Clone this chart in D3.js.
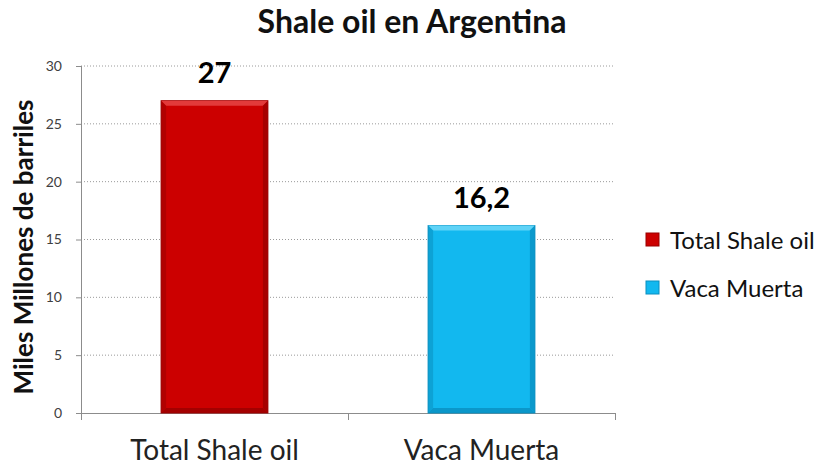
<!DOCTYPE html>
<html>
<head>
<meta charset="utf-8">
<script src="https://cdn.jsdelivr.net/npm/d3@7"></script>
<style>
  body { margin: 0; background: #fff; }
  text { font-family: Lato, "Open Sans", sans-serif; }
</style>
</head>
<body>
<svg id="chart" width="829" height="468"></svg>
<script>
const categories = ["Total Shale oil", "Vaca Muerta"];
const values = [27, 16.2];
const valueLabels = ["27", "16,2"];
const colors = ["#cc0000", "#12b8ef"];
const edgeColors = ["#9a0000", "#0a8fc0"];
const lightColors = ["#e23a3a", "#5fd3f7"];
const yTicks = [0, 5, 10, 15, 20, 25, 30];

let svg = d3.select("#chart");

let margin = { top: 66, left: 81, right: 214, bottom: 55 };
let width = 829 - margin.left - margin.right,
height = 468 - margin.top - margin.bottom;

let g = svg.append("g").
attr("transform", "translate(" + margin.left + "," + margin.top + ")");

let x = d3.scaleBand().
domain(categories).
range([0, width]).
paddingInner(0.6).
paddingOuter(0.3);

let y = d3.scaleLinear().
domain([0, 30]).
range([height, 0]);

// grid lines
g.append("g").
selectAll("line").
data(yTicks.filter(d => d > 0)).
enter().append("line").
attr("x1", 0).
attr("x2", width).
attr("y1", d => y(d)).
attr("y2", d => y(d)).
attr("stroke", "#9a9a9a").
attr("stroke-width", 1).
attr("stroke-dasharray", "1,2");

// y axis
let yAxis = g.append("g").
call(d3.axisLeft(y).tickValues(yTicks).tickSize(5).tickPadding(14));
yAxis.select(".domain").attr("stroke", "#8c8c8c").attr("d", "M0.5," + height + "V0");
yAxis.selectAll(".tick line").attr("stroke", "#8c8c8c");
yAxis.selectAll(".tick text").
attr("fill", "#404040").
style("font-size", "14px");

// x axis
let xAxis = g.append("g").
attr("transform", "translate(0," + height + ")").
call(d3.axisBottom(x).tickSize(0).tickPadding(27));
xAxis.select(".domain").attr("stroke", "#8c8c8c");
xAxis.selectAll(".tick text").
attr("fill", "#222").
style("font-size", "28px");
xAxis.append("g").
selectAll("line").
data([0, 1, 2]).
enter().append("line").
attr("x1", d => Math.round(d * x.step()) + 0.5).
attr("x2", d => Math.round(d * x.step()) + 0.5).
attr("y1", 0).
attr("y2", 7).
attr("stroke", "#8c8c8c");

// bars with a small bevel
const bevel = 5;
let bar = g.selectAll(".bar").
data(categories).
enter().append("g").
attr("class", "bar");

bar.append("rect").
attr("x", d => x(d)).
attr("y", (d, i) => y(values[i])).
attr("width", x.bandwidth()).
attr("height", (d, i) => height - y(values[i])).
attr("fill", (d, i) => colors[i]).
attr("stroke", (d, i) => edgeColors[i]).
attr("stroke-width", 1);

bar.append("path").
attr("d", (d, i) => {
  let x0 = x(d), x1 = x(d) + x.bandwidth(), t = y(values[i]);
  return "M" + x0 + "," + t + "H" + x1 + "L" + (x1 - bevel) + "," + (t + bevel) +
  "H" + (x0 + bevel) + "Z";
}).
attr("fill", (d, i) => lightColors[i]);

bar.append("path").
attr("d", (d, i) => {
  let x0 = x(d), t = y(values[i]);
  return "M" + x0 + "," + t + "L" + (x0 + bevel) + "," + (t + bevel) +
  "V" + (height - bevel) + "L" + x0 + "," + height + "Z";
}).
attr("fill", (d, i) => edgeColors[i]).
attr("opacity", 0.55);

bar.append("path").
attr("d", (d, i) => {
  let x1 = x(d) + x.bandwidth(), t = y(values[i]);
  return "M" + x1 + "," + t + "L" + (x1 - bevel) + "," + (t + bevel) +
  "V" + (height - bevel) + "L" + x1 + "," + height + "Z";
}).
attr("fill", (d, i) => edgeColors[i]).
attr("opacity", 0.75);

bar.append("path").
attr("d", (d, i) => {
  let x0 = x(d), x1 = x(d) + x.bandwidth();
  return "M" + x0 + "," + height + "L" + (x0 + bevel) + "," + (height - bevel) +
  "H" + (x1 - bevel) + "L" + x1 + "," + height + "Z";
}).
attr("fill", (d, i) => edgeColors[i]).
attr("opacity", 0.8);

// value labels
bar.append("text").
attr("x", d => x(d) + x.bandwidth() / 2).
attr("y", (d, i) => y(values[i]) - 18).
attr("text-anchor", "middle").
style("font-size", "29px").
style("font-weight", "bold").
attr("fill", "#000").
text((d, i) => valueLabels[i]);

// title
svg.append("text").
attr("x", 412).
attr("y", 33).
attr("text-anchor", "middle").
style("font-size", "32px").
style("font-weight", "bold").
attr("fill", "#111").
text("Shale oil en Argentina");

// y axis title
svg.append("text").
attr("transform", "translate(33,247) rotate(-90)").
attr("text-anchor", "middle").
style("font-size", "26px").
style("font-weight", "bold").
attr("fill", "#111").
text("Miles Millones de barriles");

// legend
let legend = svg.append("g").
attr("transform", "translate(646,233)").
selectAll("g").
data(categories).
enter().append("g").
attr("transform", (d, i) => "translate(0," + i * 48 + ")");

legend.append("rect").
attr("width", 13).
attr("height", 13).
attr("fill", (d, i) => colors[i]).
attr("stroke", (d, i) => edgeColors[i]);

legend.append("text").
attr("x", 24).
attr("y", 16).
style("font-size", "24px").
attr("fill", "#111").
text(d => d);
</script>
</body>
</html>
